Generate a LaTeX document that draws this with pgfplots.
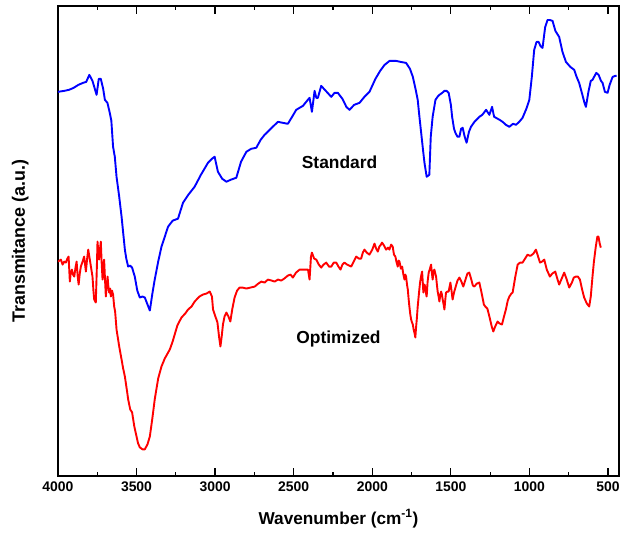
\documentclass[border=0pt]{standalone}
\usepackage{fontspec}
\setmainfont{Liberation Sans}
\usepackage{pgfplots}
\pgfplotsset{compat=1.18}
\usepackage{pgfplotstable}

% y values are measured upward from the bottom of the frame
\pgfplotstableread{
x y
4000 385
3960 386
3930 387
3900 389
3870 392
3840 394
3820 395
3800 402
3780 396
3754 382
3740 398
3727 398
3712 388
3701 377
3685 374
3670 364
3660 356
3649 330
3638 320
3627 300
3610 280
3595 260
3574 227
3565 218
3553 210
3540 211
3528 209
3511 200
3495 186
3479 179
3462 180
3447 179
3430 172
3415 166
3400 182
3384 197
3362 215
3341 230
3320 240
3299 250
3270 256
3236 258
3204 274
3170 282
3130 290
3090 302
3045 314
3020 318
3003 320
2982 305
2955 298
2928 295
2900 297
2865 299
2835 315
2801 325
2770 328
2738 329
2710 337
2685 342
2640 349
2600 355
2570 354
2537 353
2510 360
2484 367
2441 371
2410 377
2399 379
2384 365
2367 386
2356 379
2346 379
2325 391
2290 385
2261 380
2240 384
2219 384
2190 378
2165 370
2145 367
2115 372
2081 374
2050 380
2018 385
1980 398
1950 406
1922 412
1890 416
1848 416
1820 415
1785 414
1760 408
1742 400
1725 388
1711 377
1700 360
1689 344
1678 328
1668 314
1654 300
1645 301
1637 302
1628 340
1616 360
1598 377
1585 380
1573 382
1555 384
1541 386
1527 386
1514 384
1500 372
1492 360
1480 348
1471 344
1458 340
1446 340
1435 348
1425 349
1412 340
1400 334
1385 345
1372 350
1350 355
1319 360
1300 362
1276 367
1255 362
1238 370
1225 360
1213 359
1190 357
1171 355
1150 352
1128 350
1105 353
1086 352
1065 355
1044 359
1020 368
1001 377
985 400
970 427
955 435
942 435
930 431
917 429
900 450
885 457
870 457
853 456
835 446
811 440
790 425
768 415
740 410
715 407
700 400
684 394
665 383
650 374
641 370
625 385
610 396
599 397
575 404
560 402
545 396
535 394
520 385
503 384
490 392
471 400
455 401
445 401
}\standard

\pgfplotstableread{
x y
4000 215
3990 216
3981 217
3970 212
3960 215
3949 214
3940 218
3932 220
3924 195
3918 204
3911 207
3904 202
3896 200
3888 209
3881 215
3874 200
3868 192
3861 203
3854 210
3843 215
3833 220
3827 212
3822 205
3814 218
3807 227
3800 220
3795 215
3787 207
3780 200
3774 186
3769 177
3759 174
3753 205
3748 235
3743 225
3738 217
3732 228
3727 235
3722 215
3716 197
3711 208
3706 217
3700 196
3695 180
3689 192
3684 200
3679 190
3674 184
3668 188
3663 180
3656 186
3649 182
3642 170
3636 165
3627 147
3610 130
3595 117
3585 108
3574 100
3560 85
3553 77
3540 67
3528 64
3514 50
3500 40
3490 33
3479 29
3462 27
3447 27
3430 32
3415 40
3400 57
3384 77
3362 98
3341 110
3320 118
3288 127
3270 135
3257 142
3240 151
3214 159
3190 163
3172 167
3150 170
3130 175
3100 180
3077 182
3055 183
3034 185
3020 180
3013 167
2998 160
2985 154
2975 140
2966 130
2958 140
2950 152
2940 160
2928 164
2915 160
2903 155
2890 168
2876 179
2860 186
2844 189
2825 189
2801 188
2775 189
2748 190
2725 193
2706 195
2685 194
2664 197
2640 196
2621 195
2600 197
2579 196
2560 198
2537 201
2520 202
2505 199
2485 204
2462 207
2440 207
2409 207
2399 197
2390 220
2384 224
2370 218
2356 217
2340 212
2325 209
2310 212
2293 214
2275 210
2261 210
2245 214
2229 214
2215 210
2202 207
2190 212
2177 214
2160 212
2134 210
2115 216
2102 220
2085 218
2071 218
2060 224
2050 227
2035 224
2018 222
2000 227
1986 233
1975 228
1965 225
1955 230
1945 232
1938 234
1925 231
1912 227
1900 229
1891 227
1880 232
1870 230
1862 222
1853 220
1845 214
1838 210
1832 216
1827 215
1818 208
1810 210
1802 202
1795 197
1790 202
1785 200
1779 192
1774 187
1769 178
1764 170
1758 162
1753 157
1747 154
1742 152
1737 147
1732 144
1726 139
1721 150
1717 157
1711 170
1705 180
1700 188
1696 194
1690 200
1683 205
1679 195
1675 184
1668 192
1662 189
1658 183
1654 180
1648 195
1641 204
1633 208
1626 212
1621 204
1616 197
1610 205
1605 207
1599 203
1594 200
1589 192
1584 185
1578 180
1573 175
1567 182
1562 185
1557 182
1552 177
1546 172
1541 167
1536 176
1531 184
1522 185
1514 185
1508 190
1503 194
1496 186
1489 177
1480 184
1471 189
1458 196
1446 199
1433 195
1421 190
1405 198
1395 203
1383 204
1370 197
1360 191
1351 190
1335 193
1319 194
1305 184
1290 172
1281 170
1268 168
1255 160
1240 150
1230 145
1218 150
1203 155
1190 153
1175 152
1162 160
1150 167
1138 176
1128 180
1115 183
1107 184
1090 200
1075 212
1060 214
1044 214
1028 218
1012 222
1000 221
991 221
975 223
959 227
945 220
933 214
920 215
906 217
890 207
870 200
855 203
836 205
823 198
811 192
795 198
779 204
765 198
747 189
730 194
718 199
705 200
692 200
679 197
665 187
652 179
635 173
620 170
610 180
599 200
590 215
578 230
568 240
561 240
553 233
546 229
}\optimized

\begin{document}
\begin{tikzpicture}
\begin{axis}[
    scale only axis,
    width=562bp,
    height=471bp,
    x dir=reverse,
    xmin=430, xmax=4000,
    ymin=0, ymax=471,
    xtick={500,1000,...,4000},
    minor x tick num=1,
    ytick=\empty,
    minor ytick={20.3,41.77,...,460},
    tick align=inside,
    major tick length=8bp,
    minor tick length=4bp,
    axis line style={line width=1.6bp},
    every tick/.style={black, line width=1.2bp},
    /pgf/number format/assume math mode=true,
    /pgf/number format/1000 sep=,
    xticklabel style={font=\bfseries\fontsize{14}{16}\selectfont, yshift=-2bp},
    xlabel={\bfseries Wavenumber (cm\textsuperscript{-1})},
    ylabel={\bfseries Transmitance (a.u.)},
    xlabel style={font=\bfseries\fontsize{17.3}{19}\selectfont,
        at={(axis description cs:0.5,0)}, anchor=base, yshift=-48bp},
    ylabel style={font=\bfseries\fontsize{18}{20}\selectfont,
        at={(axis description cs:-0.0587,0.5)}, anchor=base},
    clip=true,
]
\addplot[blue, line width=1.9bp, line join=round] table[x=x, y=y] {\standard};
\addplot[red, line width=1.9bp, line join=round] table[x=x, y=y] {\optimized};
\node[font=\bfseries\fontsize{17.5}{19}\selectfont] at (axis cs:2208,314) {Standard};
\node[font=\bfseries\fontsize{17.5}{19}\selectfont] at (axis cs:2215,137) {Optimized};
\end{axis}
% margins of the reference image around the frame
\path (0,0) ++(-58bp,-56bp) (562bp,471bp) ++(3bp,6bp);
\end{tikzpicture}
\end{document}
